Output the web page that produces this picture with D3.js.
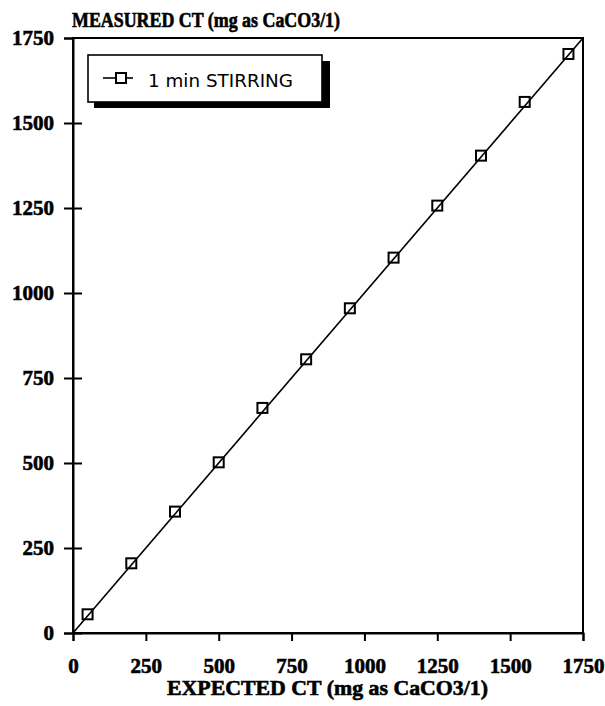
<!DOCTYPE html>
<html>
<head>
<meta charset="utf-8">
<script src="https://cdn.jsdelivr.net/npm/d3@7"></script>
<style>
  html, body { margin: 0; padding: 0; background: #fff; }
  svg { display: block; }
</style>
</head>
<body>
<svg id="chart" width="605" height="706"></svg>
<script>
const expected = [50, 200, 350, 500, 650, 800, 950, 1100, 1250, 1400, 1550, 1700];
const measured = [55, 205, 357, 502, 662, 805, 955, 1104, 1257, 1404, 1562, 1703];
const refLineX = [0, 1750];
const refLineY = [0, 1750];
const xTicks = [0, 250, 500, 750, 1000, 1250, 1500, 1750];
const yTicks = [0, 250, 500, 750, 1000, 1250, 1500, 1750];
const seriesName = "1 min STIRRING";
const yTitle = "MEASURED CT (mg as CaCO3/1)";
const xTitle = "EXPECTED CT (mg as CaCO3/1)";

const svg = d3.select("#chart");
const L = 73, R = 583, T = 38, B = 633;
const x = d3.scaleLinear().domain([0, 1750]).range([L, R]);
const y = d3.scaleLinear().domain([0, 1750]).range([B, T]);

const serif = "'Liberation Serif', 'Times New Roman', serif";

// frame
svg.append("rect").attr("x", L).attr("y", T).attr("width", R - L).attr("height", B - T)
  .attr("fill", "none").attr("stroke", "#000").attr("stroke-width", 2);

// axes
const xAxis = svg.append("g").attr("transform", `translate(0,${B})`)
  .call(d3.axisBottom(x).tickValues(xTicks).tickSize(8).tickPadding(17).tickFormat(d3.format("d")));
const yAxis = svg.append("g").attr("transform", `translate(${L},0)`)
  .call(d3.axisLeft(y).tickValues(yTicks).tickSize(9).tickPadding(10).tickFormat(d3.format("d")));
[xAxis, yAxis].forEach(g => {
  g.select(".domain").attr("stroke", "#000").attr("stroke-width", 2);
  g.selectAll(".tick line").attr("stroke", "#000").attr("stroke-width", 2);
  g.selectAll(".tick text").attr("fill", "#000").attr("stroke", "#000").attr("stroke-width", 0.6)
    .style("font-family", serif).style("font-weight", "bold").style("font-size", "21px");
});
yAxis.selectAll(".tick text").attr("dy", "0.33em");
// y ticks cross the axis line
yAxis.selectAll(".tick line").attr("x1", d => (d === 1750 ? 0 : 9));

// reference line
const pts = refLineX.map((v, i) => [v, refLineY[i]]);
svg.append("path").datum(pts)
  .attr("d", d3.line().x(d => x(d[0])).y(d => y(d[1])))
  .attr("fill", "none").attr("stroke", "#000").attr("stroke-width", 1.6);

// markers
const S = 10;
svg.append("g").selectAll("rect").data(expected.map((v, i) => [v, measured[i]]))
  .join("rect")
  .attr("x", d => x(d[0]) - S / 2).attr("y", d => y(d[1]) - S / 2)
  .attr("width", S).attr("height", S)
  .attr("fill", "none").attr("stroke", "#000").attr("stroke-width", 2);

// titles
svg.append("text").attr("x", 72).attr("y", 27).text(yTitle)
  .attr("textLength", 268).attr("lengthAdjust", "spacingAndGlyphs")
  .attr("stroke", "#000").attr("stroke-width", 0.6)
  .style("font-family", serif).style("font-weight", "bold").style("font-size", "20px");
svg.append("text").attr("x", 167).attr("y", 695).text(xTitle)
  .attr("textLength", 321).attr("lengthAdjust", "spacingAndGlyphs")
  .attr("stroke", "#000").attr("stroke-width", 0.6)
  .style("font-family", serif).style("font-weight", "bold").style("font-size", "21px");

// legend
const lg = svg.append("g");
lg.append("rect").attr("x", 94).attr("y", 61).attr("width", 236).attr("height", 47).attr("fill", "#000");
lg.append("rect").attr("x", 88).attr("y", 55).attr("width", 234).attr("height", 47)
  .attr("fill", "#fff").attr("stroke", "#000").attr("stroke-width", 1.6);
lg.append("line").attr("x1", 103).attr("x2", 133).attr("y1", 78).attr("y2", 78)
  .attr("stroke", "#000").attr("stroke-width", 1.6);
lg.append("rect").attr("x", 116).attr("y", 73).attr("width", S).attr("height", S)
  .attr("fill", "#fff").attr("stroke", "#000").attr("stroke-width", 2);
lg.append("text").attr("x", 148).attr("y", 87).text(seriesName)
  .attr("textLength", 145).attr("lengthAdjust", "spacingAndGlyphs")
  .style("font-family", "'DejaVu Sans', sans-serif").style("font-size", "18px");
</script>
</body>
</html>
